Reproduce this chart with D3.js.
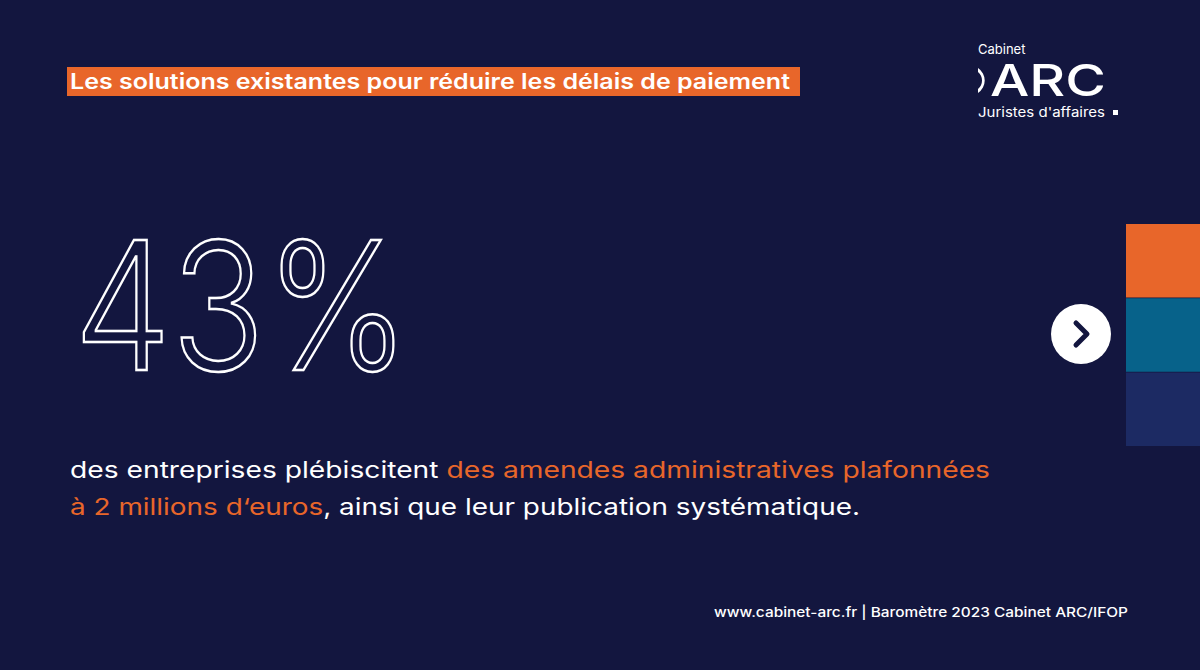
<!DOCTYPE html>
<html><head><meta charset="utf-8">
<script src="https://cdn.jsdelivr.net/npm/d3@7"></script>
<style>body{margin:0;background:#13163f}svg{display:block}</style>
</head><body>
<svg id="c" width="1200" height="670"></svg>
<script>
var title = 'Les solutions existantes pour réduire les délais de paiement';
var value = 43;
var line1 = [['des entreprises plébiscitent ', false], ['des amendes administratives plafonnées', true]];
var line2 = [['à 2 millions d‘euros', true], [', ainsi que leur publication systématique.', false]];
var footer = 'www.cabinet-arc.fr | Baromètre 2023 Cabinet ARC/IFOP';
var sideColors = ['#e8662a', '#07628a', '#1c2a63'];

var orange = '#e8662a';
var svg = d3.select('#c');
svg.append('rect').attr('width', 1200).attr('height', 670).attr('fill', '#13163f');

// title with orange box
svg.append('rect').attr('x', 67).attr('y', 67).attr('width', 733).attr('height', 29).attr('fill', orange);
svg.append('text').attr('x', 70).attr('y', 89).attr('fill', '#fff')
    .attr('textLength', 720).attr('lengthAdjust', 'spacingAndGlyphs')
    .style('font', '600 21px Inter, sans-serif').text(title);

// logo
var logo = svg.append('g').attr('fill', '#fff').style('font-family', 'Inter, sans-serif');
logo.append('text').attr('x', 978).attr('y', 54).style('font-size', '13px').text('Cabinet');
logo.append('text').attr('x', 990).attr('y', 96).style('font-size', '44px').style('font-weight', 500)
    .attr('textLength', 116).attr('lengthAdjust', 'spacingAndGlyphs').text('ARC');
logo.append('path').attr('d', 'M978,68 A15,15 0 0 1 978,93 L978,89 A11,11 0 0 0 978,72 Z');
logo.append('text').attr('x', 978).attr('y', 117).style('font-size', '13px')
    .attr('textLength', 127).attr('lengthAdjust', 'spacingAndGlyphs').text("Juristes d'affaires");
logo.append('rect').attr('x', 1113).attr('y', 110).attr('width', 5).attr('height', 5);

// big outlined number
svg.append('text').attr('x', 74).attr('y', 370)
    .attr('fill', 'none').attr('stroke', '#fff').attr('stroke-width', 2.5)
    .attr('textLength', 336).attr('lengthAdjust', 'spacingAndGlyphs')
    .style('font', '300 178px Inter, sans-serif')
    .text(value + '%');

// side blocks
var y = d3.scaleBand().domain(d3.range(sideColors.length)).range([224, 446]).paddingInner(0.01);
svg.selectAll('rect.side').data(sideColors).enter().append('rect').attr('class', 'side')
    .attr('x', 1126).attr('width', 74).attr('y', function (d, i) { return y(i); })
    .attr('height', y.bandwidth()).attr('fill', function (d) { return d; });

// arrow button
svg.append('circle').attr('cx', 1081).attr('cy', 334).attr('r', 30).attr('fill', '#fff');
svg.append('path').attr('d', 'M1076,323 L1087,334 L1076,345').attr('fill', 'none')
    .attr('stroke', '#13163f').attr('stroke-width', 5).attr('stroke-linecap', 'round').attr('stroke-linejoin', 'round');

// body text
[[line1, 478, 920], [line2, 515, 790]].forEach(function (l) {
    var t = svg.append('text').attr('x', 70).attr('y', l[1]).attr('fill', '#fff')
        .attr('textLength', l[2]).attr('lengthAdjust', 'spacingAndGlyphs')
        .style('font', '400 23px Inter, sans-serif');
    t.selectAll('tspan').data(l[0]).enter().append('tspan')
        .attr('fill', function (d) { return d[1] ? orange : '#fff'; })
        .text(function (d) { return d[0]; });
});

svg.append('text').attr('x', 714).attr('y', 617).attr('fill', '#fff')
    .attr('textLength', 414).attr('lengthAdjust', 'spacingAndGlyphs')
    .style('font', '500 13px Inter, sans-serif').text(footer);
</script>
</body></html>
